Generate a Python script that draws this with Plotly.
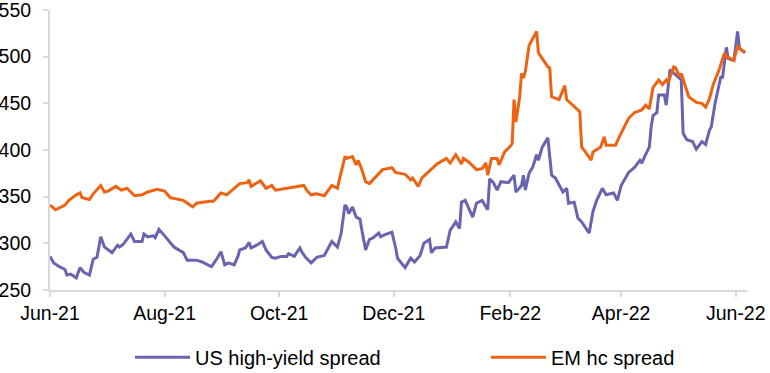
import plotly.graph_objects as go

# US high-yield spread (bp)
us_dates = [
    "2021-06-01", "2021-06-03", "2021-06-06", "2021-06-09", "2021-06-10", "2021-06-12",
    "2021-06-15", "2021-06-17", "2021-06-19", "2021-06-22", "2021-06-24", "2021-06-26",
    "2021-06-28", "2021-06-30", "2021-07-04", "2021-07-06", "2021-07-07", "2021-07-08",
    "2021-07-10", "2021-07-14", "2021-07-16", "2021-07-20", "2021-07-21", "2021-07-23",
    "2021-07-26", "2021-07-27", "2021-07-29", "2021-08-01", "2021-08-04", "2021-08-06",
    "2021-08-11", "2021-08-13", "2021-08-18", "2021-08-21", "2021-08-24", "2021-08-26",
    "2021-08-29", "2021-08-31", "2021-09-02", "2021-09-04", "2021-09-07", "2021-09-09",
    "2021-09-10", "2021-09-13", "2021-09-15", "2021-09-16", "2021-09-19", "2021-09-22",
    "2021-09-24", "2021-09-27", "2021-09-29", "2021-10-02", "2021-10-05", "2021-10-06",
    "2021-10-09", "2021-10-12", "2021-10-13", "2021-10-15", "2021-10-18", "2021-10-21",
    "2021-10-25", "2021-10-28", "2021-10-29", "2021-11-01", "2021-11-03", "2021-11-05",
    "2021-11-06", "2021-11-07", "2021-11-09", "2021-11-11", "2021-11-13", "2021-11-14",
    "2021-11-16", "2021-11-18", "2021-11-20", "2021-11-23", "2021-11-24", "2021-11-26",
    "2021-11-30", "2021-12-02", "2021-12-03", "2021-12-07", "2021-12-10", "2021-12-12",
    "2021-12-15", "2021-12-17", "2021-12-20", "2021-12-21", "2021-12-23", "2021-12-29",
    "2021-12-31", "2022-01-03", "2022-01-05", "2022-01-06", "2022-01-08", "2022-01-12",
    "2022-01-14", "2022-01-17", "2022-01-18", "2022-01-20", "2022-01-21", "2022-01-23",
    "2022-01-25", "2022-01-27", "2022-01-31", "2022-02-03", "2022-02-04", "2022-02-07",
    "2022-02-08", "2022-02-09", "2022-02-11", "2022-02-13", "2022-02-15", "2022-02-16",
    "2022-02-18", "2022-02-21", "2022-02-23", "2022-02-25", "2022-03-01", "2022-03-03",
    "2022-03-04", "2022-03-07", "2022-03-09", "2022-03-11", "2022-03-15", "2022-03-17",
    "2022-03-19", "2022-03-22", "2022-03-24", "2022-03-28", "2022-03-30", "2022-04-01",
    "2022-04-05", "2022-04-08", "2022-04-11", "2022-04-12", "2022-04-14", "2022-04-16",
    "2022-04-17", "2022-04-18", "2022-04-20", "2022-04-21", "2022-04-24", "2022-04-25",
    "2022-04-27", "2022-04-29", "2022-05-03", "2022-05-04", "2022-05-06", "2022-05-09",
    "2022-05-11", "2022-05-14", "2022-05-16", "2022-05-18", "2022-05-19", "2022-05-21",
    "2022-05-24", "2022-05-25", "2022-05-27", "2022-05-28", "2022-05-31", "2022-06-02",
    "2022-06-03", "2022-06-06",
]
us_values = [
    286, 279, 275, 272, 266, 267,
    263, 274, 269, 266, 283, 285,
    307, 296, 290, 296, 298, 296,
    299, 310, 302, 302, 310, 307,
    308, 306, 315, 308, 301, 296,
    290, 282, 282, 280, 277, 275,
    284, 291, 277, 279, 277, 286,
    293, 295, 301, 295, 298, 302,
    293, 285, 284, 286, 286, 289,
    286, 295, 291, 285, 279, 285,
    287, 298, 302, 296, 311, 341,
    339, 332, 339, 328, 326, 314,
    293, 304, 306, 311, 307, 309,
    312, 295, 284, 274, 284, 280,
    287, 300, 304, 290, 295, 296,
    314, 323, 316, 344, 346, 328,
    343, 346, 343, 336, 369, 365,
    357, 366, 365, 373, 355, 362,
    373, 357, 375, 382, 395, 389,
    403, 413, 373, 370, 355, 359,
    343, 344, 327, 323, 311, 334,
    346, 359, 352, 354, 346, 362,
    376, 381, 389, 386, 395, 403,
    425, 437, 440, 459, 459, 448,
    486, 482, 475, 418, 411, 409,
    401, 409, 406, 421, 425, 450,
    478, 478, 510, 498, 496, 527,
    509, 504,
]

# EM hard-currency spread (bp)
em_dates = [
    "2021-06-01", "2021-06-04", "2021-06-09", "2021-06-11", "2021-06-15", "2021-06-17",
    "2021-06-18", "2021-06-22", "2021-06-24", "2021-06-28", "2021-06-30", "2021-07-02",
    "2021-07-06", "2021-07-09", "2021-07-12", "2021-07-16", "2021-07-20", "2021-07-23",
    "2021-07-28", "2021-08-01", "2021-08-04", "2021-08-11", "2021-08-16", "2021-08-18",
    "2021-08-25", "2021-08-27", "2021-08-31", "2021-09-03", "2021-09-10", "2021-09-14",
    "2021-09-15", "2021-09-16", "2021-09-21", "2021-09-24", "2021-09-27", "2021-09-29",
    "2021-10-05", "2021-10-11", "2021-10-14", "2021-10-16", "2021-10-18", "2021-10-21",
    "2021-10-25", "2021-10-29", "2021-11-01", "2021-11-02", "2021-11-05", "2021-11-06",
    "2021-11-09", "2021-11-11", "2021-11-12", "2021-11-14", "2021-11-16", "2021-11-18",
    "2021-11-22", "2021-11-25", "2021-11-30", "2021-12-02", "2021-12-07", "2021-12-10",
    "2021-12-11", "2021-12-14", "2021-12-16", "2021-12-17", "2021-12-22", "2021-12-24",
    "2021-12-29", "2021-12-31", "2022-01-03", "2022-01-06", "2022-01-07", "2022-01-10",
    "2022-01-14", "2022-01-17", "2022-01-19", "2022-01-20", "2022-01-22", "2022-01-25",
    "2022-01-26", "2022-01-29", "2022-02-01", "2022-02-02", "2022-02-03", "2022-02-04",
    "2022-02-06", "2022-02-07", "2022-02-08", "2022-02-09", "2022-02-11", "2022-02-15",
    "2022-02-16", "2022-02-21", "2022-02-22", "2022-02-23", "2022-02-27", "2022-03-02",
    "2022-03-03", "2022-03-07", "2022-03-10", "2022-03-11", "2022-03-13", "2022-03-16",
    "2022-03-17", "2022-03-21", "2022-03-23", "2022-03-24", "2022-03-29", "2022-03-31",
    "2022-04-05", "2022-04-08", "2022-04-12", "2022-04-14", "2022-04-16", "2022-04-18",
    "2022-04-21", "2022-04-23", "2022-04-25", "2022-04-26", "2022-04-29", "2022-04-30",
    "2022-05-02", "2022-05-03", "2022-05-07", "2022-05-11", "2022-05-14", "2022-05-16",
    "2022-05-18", "2022-05-20", "2022-05-23", "2022-05-26", "2022-05-27", "2022-05-31",
    "2022-06-02", "2022-06-04", "2022-06-06",
]
em_values = [
    341, 336, 341, 346, 352, 354,
    349, 347, 353, 362, 355, 356,
    361, 357, 359, 351, 352, 355,
    358, 356, 349, 346, 339, 343,
    345, 345, 354, 352, 364, 365,
    368, 361, 367, 359, 362, 357,
    359, 361, 362, 356, 352, 353,
    351, 362, 359, 368, 393, 391,
    393, 384, 389, 379, 366, 364,
    372, 379, 381, 376, 374, 368,
    370, 361, 370, 372, 382, 385,
    391, 386, 395, 385, 391, 387,
    379, 380, 386, 373, 391, 391,
    384, 398, 404, 407, 454, 430,
    457, 482, 477, 484, 512, 527,
    504, 489, 488, 457, 454, 469,
    454, 447, 441, 403, 398, 389,
    398, 403, 414, 405, 405, 414,
    434, 440, 443, 448, 444, 467,
    475, 470, 475, 472, 489, 488,
    479, 482, 457, 451, 450, 446,
    455, 470, 485, 504, 500, 496,
    511, 507, 505,
]

tick_vals = ["2021-06-01", "2021-08-01", "2021-10-01", "2021-12-01",
             "2022-02-01", "2022-04-01", "2022-06-01"]
tick_text = ["Jun-21", "Aug-21", "Oct-21", "Dec-21", "Feb-22", "Apr-22", "Jun-22"]
y_ticks = [250, 300, 350, 400, 450, 500, 550]

PURPLE = "#6963B0"
ORANGE = "#EE6312"
AXIS = "#D9D9D9"
FONT = "Liberation Sans, Arial, sans-serif"
FS = 19.5

fig = go.Figure()
fig.add_trace(go.Scatter(x=us_dates, y=us_values, mode="lines",
                         name="US high-yield spread", legend="legend",
                         line=dict(color=PURPLE, width=3)))
fig.add_trace(go.Scatter(x=em_dates, y=em_values, mode="lines",
                         name="EM hc spread", legend="legend2",
                         line=dict(color=ORANGE, width=3)))

legend_common = dict(orientation="h", xanchor="left", y=-0.24, yanchor="middle",
                     font=dict(size=20, family=FONT), itemwidth=55,
                     bgcolor="rgba(0,0,0,0)")

fig.update_layout(
    width=770, height=373,
    margin=dict(l=50, r=23, t=10, b=83, autoexpand=False),
    paper_bgcolor="white", plot_bgcolor="white",
    font=dict(family=FONT, size=FS, color="#000000"),
    showlegend=True,
    legend=dict(x=0.1148, **legend_common),
    legend2=dict(x=0.6255, **legend_common),
    xaxis=dict(type="date", range=["2021-06-01", "2022-06-07"],
               tickvals=tick_vals, ticktext=tick_text,
               showgrid=False, zeroline=False,
               showline=True, linecolor=AXIS, linewidth=2,
               ticks="outside", ticklen=5, tickcolor=AXIS, tickwidth=2,
               ticklabeloverflow="allow"),
    yaxis=dict(range=[250, 550], tickvals=y_ticks,
               showgrid=False, zeroline=False,
               showline=True, linecolor=AXIS, linewidth=2,
               ticks="outside", ticklen=5, tickcolor=AXIS, tickwidth=2,
               ticklabeloverflow="allow", ticklabelstandoff=8),
)

fig.write_html("out.html",
               config={"displayModeBar": False},
               post_script="document.body.style.margin='0';document.body.style.overflow='hidden';")
